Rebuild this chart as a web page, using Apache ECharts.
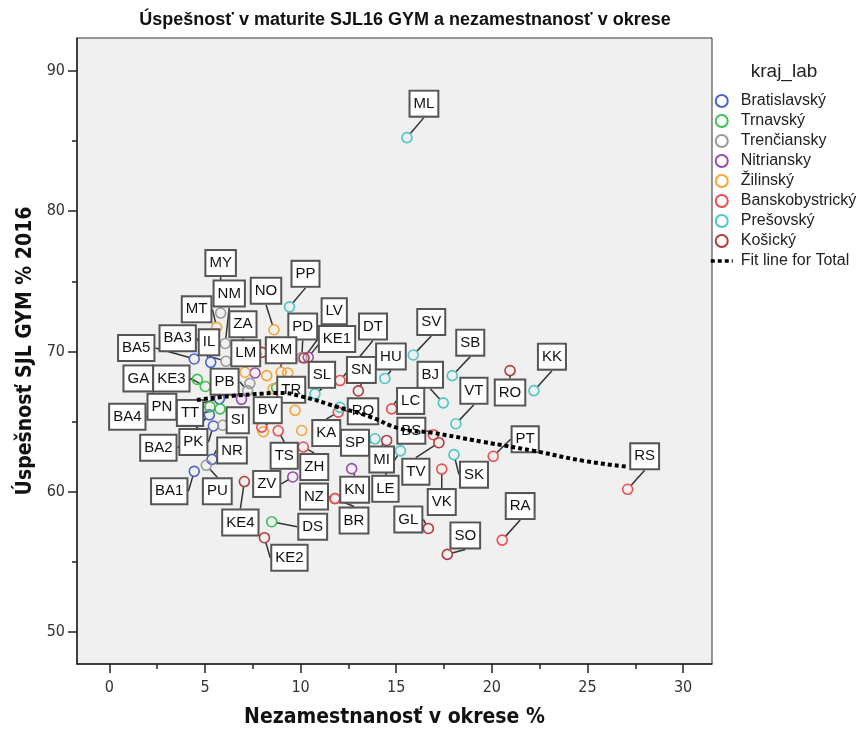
<!DOCTYPE html>
<html>
<head>
<meta charset="utf-8">
<title>Úspešnosť v maturite SJL16 GYM a nezamestnanosť v okrese</title>
<script src="https://cdn.jsdelivr.net/npm/echarts@6/dist/echarts.min.js"></script>
<style>
  html, body { margin: 0; padding: 0; background: #fff; }
  #chart { width: 865px; height: 733px; }
</style>
</head>
<body>
<div id="chart"></div>
<script>
// okresy: [nezamestnanosť %, úspešnosť SJL GYM %, skratka]
var bratislavsky = [[4.44, 69.47, 'BA5'], [5.30, 69.23, 'BA3'], [5.75, 66.63, 'BA4'], [5.23, 65.49, 'BA2'],
  [5.44, 64.69, 'PK'], [5.37, 62.31, 'NR'], [4.44, 61.46, 'BA1']];
var trnavsky = [[4.60, 68.01, 'GA'], [5.02, 67.51, 'KE3'], [5.26, 66.06, 'PN'], [5.79, 65.91, 'TT'],
  [8.75, 67.41, ''], [8.49, 57.87, 'DS']];
var trenciansky = [[5.82, 72.74, 'MY'], [6.06, 70.57, 'NM'], [6.10, 69.30, 'IL'], [7.35, 67.73, ''],
  [7.23, 67.21, 'PB'], [5.93, 64.74, 'SI'], [5.07, 61.89, 'PU'], [10.06, 69.57, 'PD']];
var nitriansky = [[7.62, 68.47, ''], [6.91, 66.59, ''], [10.40, 69.59, 'LV'], [9.59, 61.06, 'ZV'], [12.67, 61.65, 'KN']];
var zilinsky = [[5.61, 71.72, 'MT'], [8.61, 71.55, 'NO'], [7.09, 68.52, 'ZA'], [8.23, 68.28, ''],
  [8.98, 68.52, 'KM'], [9.33, 68.47, ''], [8.57, 67.34, 'TR'], [9.71, 65.81, ''], [8.05, 64.28, ''], [10.06, 64.37, '']];
var banskobystricky = [[12.06, 67.93, 'DT'], [11.97, 65.68, 'KA'], [14.76, 65.91, 'LC'], [7.97, 64.61, 'BV'],
  [8.83, 64.35, 'TS'], [10.14, 63.19, 'ZH'], [11.80, 59.52, 'NZ'], [11.80, 59.52, 'BR'], [16.94, 64.07, 'BS'],
  [17.38, 61.62, 'VK'], [20.07, 62.53, 'PT'], [27.10, 60.18, 'RS'], [20.54, 56.56, 'RA']];
var presovsky = [[15.56, 85.24, 'ML'], [9.42, 73.18, 'PP'], [10.75, 66.98, 'SL'], [12.06, 66.02, 'RO'],
  [14.41, 68.08, 'HU'], [15.89, 69.75, 'SV'], [17.93, 68.28, 'SB'], [17.46, 66.34, 'BJ'], [18.12, 64.85, 'VT'],
  [22.20, 67.21, 'KK'], [18.02, 62.65, 'SK'], [13.89, 63.78, 'SP'], [15.22, 62.92, 'LE']];
var kosicky = [[7.97, 69.94, 'LM'], [10.18, 69.54, 'KE1'], [13.02, 67.19, 'SN'], [14.50, 63.66, 'MI'],
  [17.23, 63.50, 'TV'], [20.95, 68.64, 'RO'], [16.68, 57.39, 'GL'], [17.67, 55.54, 'SO'], [7.06, 60.73, 'KE4'],
  [8.11, 56.73, 'KE2']];

// fit line (odčítaná z obrázka)
var fitX = [4.58, 6.47, 7.88, 8.92, 10.13, 11.9, 13.63, 15.2, 16.9, 19.5, 22.15, 24.76, 27.06];
var fitY = [66.55, 66.84, 66.98, 67.05, 66.77, 66.06, 65.35, 64.5, 64.2, 63.57, 62.93, 62.22, 61.79];

var krajNames = ['Bratislavský', 'Trnavský', 'Trenčiansky', 'Nitriansky', 'Žilinský', 'Banskobystrický', 'Prešovský', 'Košický'];
var krajData = [bratislavsky, trnavsky, trenciansky, nitriansky, zilinsky, banskobystricky, presovsky, kosicky];
var krajColors = ['#4a62d2', '#3cc24e', '#999999', '#9a4ab2', '#f7a535', '#f04c4c', '#4cc6c6', '#b23c3c'];

var xTicks = [0, 5, 10, 15, 20, 25, 30];
var xMinorTicks = [2.5, 7.5, 12.5, 17.5, 22.5, 27.5];
var yTicks = [50, 60, 70, 80, 90];
var yMinorTicks = [55, 65, 75, 85];

// posun popisiek (px) od bodu
var labelShift = {
  'Bratislavský': {BA5: [-58, -11], BA3: [-33, -24], BA4: [-92, 18], BA2: [-51, 33], PK: [-20, 16], NR: [20, -9], BA1: [-25, 20]},
  'Trnavský': {GA: [-59, -1], KE3: [-34, -8], PN: [-48, 0], TT: [-30, 4], DS: [41, 5]},
  'Trenčiansky': {MY: [0, -50], NM: [4, -50], IL: [-17, -19], PB: [-23, -9], SI: [15, -5], PU: [11, 26], PD: [1, -31]},
  'Nitriansky': {LV: [26, -46], ZV: [-26, 7], KN: [3, 21]},
  'Žilinský': {MT: [-20, -18], NO: [-8, -39], ZA: [-2, -48], KM: [0, -22], TR: [18, 1]},
  'Banskobystrický': {DT: [33, -54], KA: [-12, 21], LC: [19, -8], BV: [6, -17], TS: [6, 25], ZH: [11, 20],
    NZ: [-21, -2], BR: [19, 22], BS: [-22, -4], VK: [0, 33], PT: [32, -17], RS: [17, -33], RA: [18, -34]},
  'Prešovský': {ML: [17, -34], PP: [16, -33], SL: [7, -19], RO: [23, 4], HU: [6, -22], SV: [18, -33], SB: [18, -33],
    BJ: [-13, -28], VT: [18, -33], KK: [18, -34], SK: [20, 20], SP: [-20, 4], LE: [-15, 38]},
  'Košický': {LM: [-16, 1], KE1: [33, -19], SN: [3, -21], MI: [-5, 19], TV: [-23, 29], RO: [0, 22], GL: [-20, -9],
    SO: [18, -19], KE4: [-4, 41], KE2: [25, 20]}
};

var textFont = "'Liberation Sans', Arial, sans-serif";
var narrowFont = "'Liberation Sans Narrow', 'Arial Narrow', 'DejaVu Sans Condensed', sans-serif";

var seriesList = [];
krajNames.forEach(function (name, k) {
  var rows = krajData[k];
  seriesList.push({
    name: name,
    type: 'scatter',
    symbol: 'circle',
    symbolSize: 10,
    itemStyle: {color: 'rgba(0,0,0,0)', borderColor: krajColors[k], borderWidth: 1.6, opacity: 1},
    data: rows.map(function (r) {
      return {value: [r[0], r[1]], name: r[2], label: {show: r[2] !== ''}};
    }),
    label: {
      show: true,
      position: 'inside',
      formatter: '{b}',
      fontFamily: textFont,
      fontSize: 15,
      color: '#111',
      backgroundColor: '#fff',
      borderColor: '#555',
      borderWidth: 2,
      padding: [5, 3, 4, 3]
    },
    labelLine: {show: true, lineStyle: {color: '#333', width: 1.5}},
    labelLayout: function (p) {
      var code = rows[p.dataIndex][2];
      var s = labelShift[name][code];
      if (!s) return {};
      return {dx: s[0], dy: s[1], hideOverlap: false};
    },
    emphasis: {disabled: true}
  });
});

seriesList.push({
  name: 'Fit line for Total',
  type: 'line',
  z: 10,
  smooth: true,
  symbol: 'none',
  lineStyle: {color: '#000', width: 4, type: [4, 3], cap: 'butt'},
  itemStyle: {color: '#000'},
  data: fitX.map(function (x, i) { return [x, fitY[i]]; }),
  emphasis: {disabled: true}
});

var chart = echarts.init(document.getElementById('chart'), null, {renderer: 'canvas'});
var option = {
  backgroundColor: '#fff',
  animation: false,
  title: [
    {
      text: 'Úspešnosť v maturite SJL16 GYM a nezamestnanosť v okrese',
      left: 400, top: 6, textAlign: 'center',
      textStyle: {fontFamily: textFont, fontSize: 18, fontWeight: 'bold', color: '#111'}
    },
    {
      text: 'kraj_lab',
      left: 779, top: 57, textAlign: 'center',
      textStyle: {fontFamily: textFont, fontSize: 19, fontWeight: 'normal', color: '#222'}
    }
  ],
  legend: {
    orient: 'vertical',
    left: 704,
    top: 88,
    itemWidth: 22,
    itemHeight: 12,
    itemGap: 4,
    textStyle: {fontFamily: textFont, fontSize: 16, color: '#222', padding: [0, 0, 0, 3]},
    data: krajNames.concat([{
      name: 'Fit line for Total',
      itemStyle: {opacity: 0},
      lineStyle: {width: 3.5, type: [4, 3], color: '#000'}
    }])
  },
  grid: {
    left: 77, right: 153, top: 38, bottom: 67,
    show: true, backgroundColor: '#f0f0f0', borderColor: '#333', borderWidth: 1
  },
  xAxis: [
    {
      type: 'value',
      position: 'bottom',
      min: -1.69, max: 31.51,
      name: 'Nezamestnanosť v okrese %',
      nameLocation: 'middle',
      nameGap: 43,
      nameTextStyle: {fontFamily: narrowFont, fontSize: 21, fontWeight: 'bold', color: '#111'},
      axisLine: {show: true, onZero: false, lineStyle: {color: '#222', width: 1.5}},
      axisTick: {show: true, length: 9, customValues: xTicks, lineStyle: {color: '#222', width: 1.5}},
      axisLabel: {customValues: xTicks, margin: 16, fontFamily: narrowFont, fontSize: 16, color: '#333'},
      splitLine: {show: false}
    },
    {
      type: 'value',
      position: 'bottom',
      offset: 0,
      min: -1.69, max: 31.51,
      axisLine: {show: false, onZero: false},
      axisTick: {show: true, length: 5, customValues: xMinorTicks, lineStyle: {color: '#222', width: 1.5}},
      axisLabel: {show: false},
      splitLine: {show: false}
    }
  ],
  yAxis: [
    {
      type: 'value',
      position: 'left',
      min: 47.73, max: 92.34,
      name: 'Úspešnosť SJL GYM % 2016',
      nameLocation: 'middle',
      nameGap: 37,
      nameTextStyle: {fontFamily: narrowFont, fontSize: 21, fontWeight: 'bold', color: '#111'},
      axisLine: {show: true, onZero: false, lineStyle: {color: '#222', width: 1.5}},
      axisTick: {show: true, length: 9, customValues: yTicks, lineStyle: {color: '#222', width: 1.5}},
      axisLabel: {customValues: yTicks, margin: 12, fontFamily: narrowFont, fontSize: 16, color: '#333'},
      splitLine: {show: false}
    },
    {
      type: 'value',
      position: 'left',
      offset: 0,
      min: 47.73, max: 92.34,
      axisLine: {show: false, onZero: false},
      axisTick: {show: true, length: 5, customValues: yMinorTicks, lineStyle: {color: '#222', width: 1.5}},
      axisLabel: {show: false},
      splitLine: {show: false}
    }
  ],
  series: seriesList
};
chart.setOption(option);
</script>
</body>
</html>
